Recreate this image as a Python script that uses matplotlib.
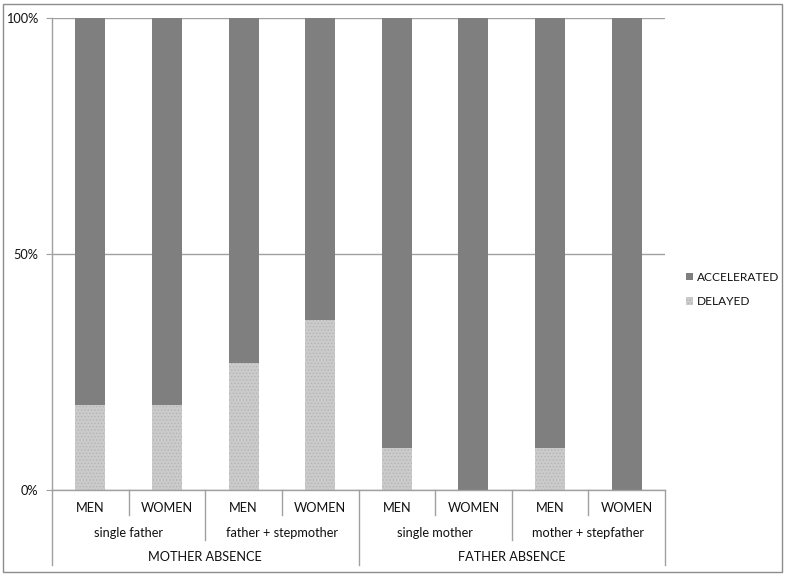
import matplotlib.pyplot as plt
from matplotlib.patches import Rectangle
import matplotlib.transforms as mtransforms

sexes = ["MEN", "WOMEN", "MEN", "WOMEN", "MEN", "WOMEN", "MEN", "WOMEN"]
families = ["single father", "father + stepmother", "single mother", "mother + stepfather"]
absences = ["MOTHER ABSENCE", "FATHER ABSENCE"]
delayed = [0.18, 0.18, 0.27, 0.36, 0.09, 0.0, 0.09, 0.0]
accelerated = [1 - d for d in delayed]

plt.rcParams['font.family'] = ['Lato', 'DejaVu Sans']
plt.rcParams['hatch.color'] = '#b4b4b4'
plt.rcParams['hatch.linewidth'] = 0.6

fig = plt.figure(figsize=(7.86, 5.76), dpi=100)
ax = fig.add_axes([52 / 786, 1 - 490 / 576, 613 / 786, 472 / 576])

x = [i + 0.5 for i in range(len(sexes))]
w = 0.39
ax.bar(x, delayed, w, color='#cbcbcb', hatch='.....', linewidth=0, label='DELAYED')
ax.bar(x, accelerated, w, bottom=delayed, color='#7f7f7f', linewidth=0, label='ACCELERATED')

ax.set_xlim(0, 8)
ax.set_ylim(0, 1)
ax.set_yticks([0, 0.5, 1])
ax.set_yticklabels(['0%', '50%', '100%'])
ax.set_xticks([])
ax.tick_params(axis='y', length=4, color='#a0a0a0', labelsize=9.2, pad=6,
               labelcolor='#111111')
for s in ['top', 'right']:
    ax.spines[s].set_visible(False)
for s in ['left', 'bottom']:
    ax.spines[s].set_color('#a0a0a0')
    ax.spines[s].set_linewidth(1)
ax.set_axisbelow(True)
ax.yaxis.grid(True, color='#a0a0a0', linewidth=1)

trans = mtransforms.blended_transform_factory(ax.transData, ax.transAxes)
px = 1 / 472
line_kw = dict(color='#a0a0a0', linewidth=1, transform=trans, clip_on=False)

# category separators
for i in range(9):
    if i in (0, 4, 8):
        depth = -75 * px
    elif i % 2 == 0:
        depth = -50 * px
    else:
        depth = -25 * px
    ax.plot([i, i], [0, depth], **line_kw)

lab_kw = dict(transform=trans, ha='center', va='center', fontsize=9.2, color='#111111')
for i, s in enumerate(sexes):
    ax.text(i + 0.5, -18 * px, s, **lab_kw)
for j, f in enumerate(families):
    ax.text(2 * j + 1, -43 * px, f, **lab_kw)
for k, a in enumerate(absences):
    ax.text(4 * k + 2, -67 * px, a, **lab_kw)

handles, labels = ax.get_legend_handles_labels()
leg = ax.legend(handles[::-1], labels[::-1], loc='center left',
                bbox_to_anchor=(1 + 21 / 613, 0.425), frameon=False, fontsize=8.6,
                handlelength=0.6, handleheight=0.6, handletextpad=0.3,
                labelspacing=1.1, borderpad=0, borderaxespad=0,
                labelcolor='#111111')

fig.patches.append(Rectangle((3 / 786, 4 / 576), 779 / 786, 568 / 576,
                             transform=fig.transFigure, fill=False,
                             edgecolor='#8c8c8c', linewidth=1))

fig.savefig('out.png', dpi=100)
